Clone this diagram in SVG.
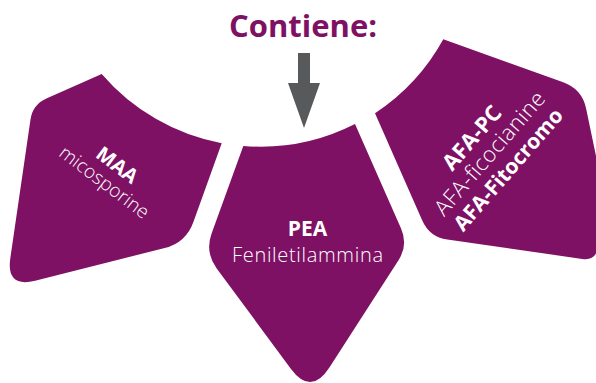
<svg xmlns="http://www.w3.org/2000/svg" width="596" height="383" viewBox="0 0 596 383">
<style>
.shape{fill:#7f1164}
.t{font-family:"Open Sans","Liberation Sans",sans-serif;fill:#ffffff;text-anchor:middle}
.b{font-weight:700}
.l{font-weight:300}
.title{font-family:"Open Sans","Liberation Sans",sans-serif;font-weight:700;fill:#7f1164;text-anchor:middle;font-size:31px}
</style>
<rect width="596" height="383" fill="#ffffff"/>
<text class="title" x="303" y="37">Contiene:</text>
<g id="connectors">
<polygon points="298,53 310,53 310,83 320,83 304,128 288,83 298,83" fill="#58595b"/>
</g>
<g id="maa">
<path class="shape" d="M101.7,74 A209.5,209.5 0 0 0 221.7,143.3 L193.4,221.9 Q186,242.6 164.7,248 L35.1,280.7 Q6,288 10.3,258.3 L30.5,119.5 Q32.7,104.6 46.4,98.5 Z"/>
<g transform="translate(113.1,170.6) rotate(37)">
<text class="t b" x="0" y="0" font-size="20">MAA</text>
<text class="t l" x="0" y="21" font-size="19" textLength="107" lengthAdjust="spacing">micosporine</text>
</g>
</g>
<g id="pea">
<path class="shape" d="M243.3,146 A209.5,209.5 0 0 0 355,124 L401.05,228.6 Q408.3,245.1 398.5,260.2 L329.4,367.4 Q311,396 290.8,368.7 L216.7,268.4 Q204.8,252.3 211.6,233.5 Z"/>
<text class="t b" x="307.5" y="236" font-size="21">PEA</text>
<text class="t l" x="307.5" y="261.5" font-size="20" textLength="151" lengthAdjust="spacing">Feniletilammina</text>
</g>
<g id="afa">
<path class="shape" d="M375,113.3 A209.5,209.5 0 0 0 443.3,39.3 L563.2,82.3 Q582,89 586.1,108.6 L596.9,160.3 Q600,175 599.5,190 L597.5,246 Q597,261 582.2,258.9 L447.3,239.6 Q429.5,237.1 422.25,220.6 Z"/>
<g transform="translate(477.6,142.9) rotate(-49)">
<text class="t b" x="0" y="0" font-size="22">AFA-PC</text>
<text class="t l" x="0" y="23.5" font-size="22" textLength="156" lengthAdjust="spacing">AFA-ficocianine</text>
<text class="t b" x="0" y="48" font-size="21" textLength="154" lengthAdjust="spacing">AFA-Fitocromo</text>
</g>
</g>
</svg>
